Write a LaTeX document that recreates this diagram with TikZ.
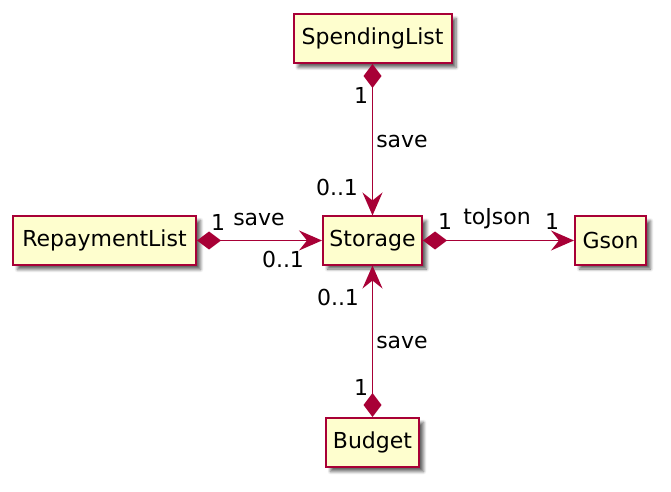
\documentclass[tikz,border=0pt]{standalone}
\usepackage{fontspec}
\setmainfont{DejaVu Sans}
\usetikzlibrary{arrows.meta,shadows.blur}
\definecolor{umlred}{HTML}{A80036}
\definecolor{umlfill}{HTML}{FEFECE}
\tikzset{
  cls/.style={draw=umlred, line width=2bp, fill=umlfill, inner sep=0pt,
    font=\fontsize{22bp}{24bp}\selectfont,
    blur shadow={shadow xshift=4.5bp, shadow yshift=-4.5bp, shadow blur steps=6, shadow opacity=60, shadow blur radius=3bp}},
  lbl/.style={font=\fontsize{22bp}{24bp}\selectfont, inner sep=0pt},
  assoc/.style={draw=umlred, line width=1.8bp,
    {Diamond[length=24bp,width=18bp,fill=umlred]}-{Stealth[length=23bp,width=20bp,inset=8bp,fill=umlred]}},
}
\begin{document}
\begin{tikzpicture}[x=1bp,y=-1bp]
\useasboundingbox (0,0) rectangle (671,492);
\node[cls, minimum width=158bp, minimum height=49bp] (spend) at (372.5,38.5) {SpendingList};
\node[cls, minimum width=183bp, minimum height=49bp] (repay) at (104.5,240.5) {RepaymentList};
\node[cls, minimum width=99bp, minimum height=48bp] (stor) at (372.5,240.5) {Storage};
\node[cls, minimum width=71bp, minimum height=48bp] (gson) at (610.5,240.5) {Gson};
\node[cls, minimum width=93bp, minimum height=49bp] (budget) at (372.5,442.5) {Budget};

\draw[assoc] (spend.south) -- (stor.north);
\draw[assoc] (repay.east) -- (stor.west);
\draw[assoc] (stor.east) -- (gson.west);
\draw[assoc] (budget.north) -- (stor.south);

% labels
\node[lbl] (l1) at (361,95) {1};
\node[lbl] (l2) at (402,141) {save};
\node[lbl] (l3) at (337,187) {0..1};

\node[lbl] (l4) at (218,222) {1};
\node[lbl] (l5) at (259,219) {save};
\node[lbl] (l6) at (283,259) {0..1};

\node[lbl] (l7) at (445,221) {1};
\node[lbl] (l8) at (497,219) {toJson};
\node[lbl] (l9) at (552,221) {1};

\node[lbl] (l10) at (338,297) {0..1};
\node[lbl] (l11) at (402,342) {save};
\node[lbl] (l12) at (361,387) {1};
\end{tikzpicture}
\end{document}
